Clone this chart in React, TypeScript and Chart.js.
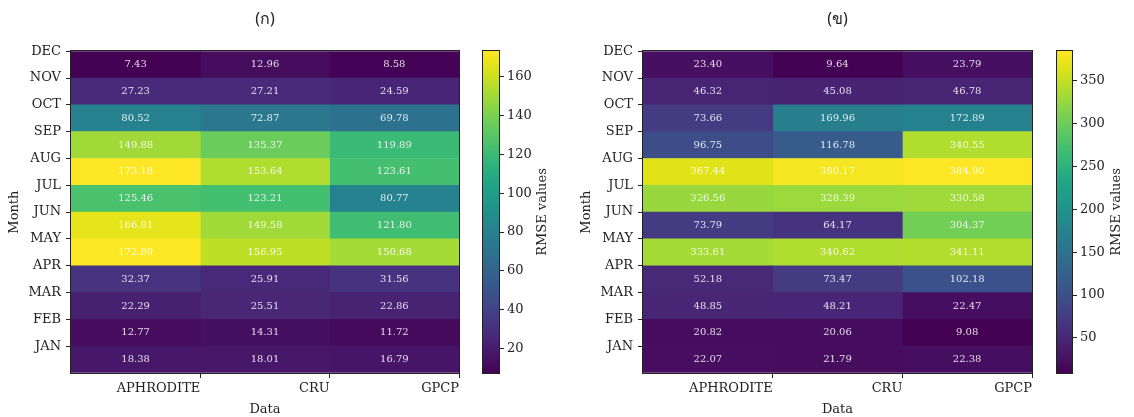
import React, { useEffect, useRef } from 'react';
import { Chart, registerables } from 'chart.js';

Chart.register(...registerables);

// ---------- data ----------
const datasetNames = ['APHRODITE', 'CRU', 'GPCP'];
const monthTicks = ['JAN', 'FEB', 'MAR', 'APR', 'MAY', 'JUN', 'JUL', 'AUG', 'SEP', 'OCT', 'NOV', 'DEC'];
const panelTitles = ['(ก)', '(ข)'];
const yAxisTitle = 'Month';
const xAxisTitle = 'Data';
const colorbarTitle = 'RMSE values';

// rows listed from top to bottom of the heatmap
const aphroditeA = [7.43, 27.23, 80.52, 149.88, 173.18, 125.46, 166.81, 172.89, 32.37, 22.29, 12.77, 18.38];
const cruA = [12.96, 27.21, 72.87, 135.37, 153.64, 123.21, 149.58, 156.95, 25.91, 25.51, 14.31, 18.01];
const gpcpA = [8.58, 24.59, 69.78, 119.89, 123.61, 80.77, 121.8, 150.68, 31.56, 22.86, 11.72, 16.79];

const aphroditeB = [23.4, 46.32, 73.66, 96.75, 367.44, 326.56, 73.79, 333.61, 52.18, 48.85, 20.82, 22.07];
const cruB = [9.64, 45.08, 169.96, 116.78, 380.17, 328.39, 64.17, 340.62, 73.47, 48.21, 20.06, 21.79];
const gpcpB = [23.79, 46.78, 172.89, 340.55, 384.9, 330.58, 304.37, 341.11, 102.18, 22.47, 9.08, 22.38];

const colorbarStepA = 20;
const colorbarStepB = 50;

// ---------- colormap (viridis) ----------
const VIRIDIS = [
  '#440154', '#471365', '#482475', '#463480', '#414487', '#3b528b', '#355f8d',
  '#2f6c8e', '#2a788e', '#25848e', '#21918c', '#1e9c89', '#22a884', '#2fb47c',
  '#44bf70', '#5ec962', '#7ad151', '#9bd93c', '#bddf26', '#dfe318', '#fde725',
];
function hexToRgb(h: string) {
  return [parseInt(h.slice(1, 3), 16), parseInt(h.slice(3, 5), 16), parseInt(h.slice(5, 7), 16)];
}
function viridis(t: number): string {
  const c = Math.min(1, Math.max(0, t)) * (VIRIDIS.length - 1);
  const i = Math.floor(c);
  const f = c - i;
  const a = hexToRgb(VIRIDIS[i]);
  const b = hexToRgb(VIRIDIS[Math.min(i + 1, VIRIDIS.length - 1)]);
  const m = a.map((v, k) => Math.round(v + (b[k] - v) * f));
  return `rgb(${m[0]},${m[1]},${m[2]})`;
}

const SERIF = "'DejaVu Serif', serif";
const TEXT = '#222';
const H = 417;

const framePlugin = {
  id: 'frame',
  afterDatasetsDraw(chart: any) {
    const { ctx, chartArea: ca } = chart;
    ctx.save();
    ctx.strokeStyle = '#222';
    ctx.lineWidth = 1;
    ctx.strokeRect(Math.round(ca.left) - 0.5, Math.round(ca.top) - 0.5, Math.round(ca.right - ca.left) + 1, Math.round(ca.bottom - ca.top) + 1);
    ctx.restore();
  },
};

const cellLabelPlugin = {
  id: 'cellLabels',
  afterDatasetsDraw(chart: any) {
    const { ctx } = chart;
    ctx.save();
    ctx.font = `10px ${SERIF}`;
    ctx.fillStyle = 'rgba(255,255,255,0.85)';
    ctx.textAlign = 'center';
    ctx.textBaseline = 'middle';
    chart.data.datasets.forEach((ds: any, i: number) => {
      const meta = chart.getDatasetMeta(i);
      meta.data.forEach((el: any, j: number) => {
        const p = el.getCenterPoint();
        ctx.fillText(ds.data[j].v.toFixed(2), p.x, p.y);
      });
    });
    ctx.restore();
  },
};

function Heatmap({ cols, title, left, width, axisWidth, padRight }: any) {
  const ref = useRef<HTMLCanvasElement>(null);
  useEffect(() => {
    const all = cols.flat();
    const vmin = Math.min(...all);
    const vmax = Math.max(...all);
    const chart = new Chart(ref.current as HTMLCanvasElement, {
      type: 'bar',
      data: {
        datasets: cols.map((vals: number[], j: number) => ({
          label: datasetNames[j],
          data: vals.map((v, i) => ({ x: j + 0.5, y: [monthTicks.length - 1 - i, monthTicks.length - i], v })),
          backgroundColor: (c: any) => (c.raw ? viridis((c.raw.v - vmin) / (vmax - vmin)) : '#000'),
          borderWidth: 0,
          barPercentage: 1,
          categoryPercentage: 1,
          grouped: false,
        })),
      },
      options: {
        responsive: false,
        animation: false,
        layout: { padding: { left: 0, right: padRight, top: 0, bottom: 0 } },
        plugins: {
          legend: { display: false },
          tooltip: { enabled: false },
          title: {
            display: true,
            text: title,
            fullSize: false,
            color: TEXT,
            font: { family: "'Noto Sans', 'DejaVu Sans', sans-serif", size: 16, weight: 'normal' },
            padding: { top: 10, bottom: 22 },
          },
        },
        scales: {
          x: {
            type: 'linear',
            min: 0,
            max: datasetNames.length,
            offset: false,
            ticks: {
              stepSize: 1,
              autoSkip: false,
              maxRotation: 0,
              align: 'end',
              padding: 3,
              color: TEXT,
              font: { family: SERIF, size: 13 },
              callback: (v: any) => (v >= 1 ? datasetNames[v - 1] : ''),
            },
            grid: {
              offset: false,
              drawOnChartArea: false,
              tickLength: 5,
              tickColor: (c: any) => (c.tick && c.tick.value === 0 ? 'rgba(0,0,0,0)' : '#222'),
            },
            border: { display: false },
            title: { display: true, text: xAxisTitle, color: TEXT, font: { family: SERIF, size: 13 }, padding: { top: 0, bottom: 0 } },
            afterFit: (s: any) => { s.height = 44; },
          },
          y: {
            type: 'linear',
            min: 0,
            max: monthTicks.length,
            ticks: {
              stepSize: 1,
              autoSkip: false,
              maxTicksLimit: 50,
              padding: 5,
              color: TEXT,
              font: { family: SERIF, size: 13 },
              callback: (v: any) => (v >= 1 ? monthTicks[v - 1] : ''),
            },
            grid: {
              drawOnChartArea: false,
              tickLength: 5,
              tickColor: (c: any) => (c.tick && c.tick.value === 0 ? 'rgba(0,0,0,0)' : '#222'),
            },
            border: { display: false },
            title: { display: true, text: yAxisTitle, color: TEXT, font: { family: SERIF, size: 13 }, padding: { top: 7, bottom: 0 } },
            afterFit: (s: any) => { s.width = axisWidth; },
          },
        },
      } as any,
      plugins: [cellLabelPlugin, framePlugin],
    } as any);
    return () => chart.destroy();
  }, []);
  return (
    <canvas ref={ref} width={width} height={H} style={{ position: 'absolute', left, top: 0, width, height: H }} />
  );
}

function Colorbar({ cols, step, left, width, padLeft, axisWidth, labelX }: any) {
  const ref = useRef<HTMLCanvasElement>(null);
  useEffect(() => {
    const all = cols.flat();
    const vmin = Math.min(...all);
    const vmax = Math.max(...all);
    const labelPlugin = {
      id: 'cbLabel',
      afterDraw(chart: any) {
        const { ctx, chartArea: ca } = chart;
        ctx.save();
        ctx.translate(labelX, (ca.top + ca.bottom) / 2);
        ctx.rotate(-Math.PI / 2);
        ctx.font = `13px ${SERIF}`;
        ctx.fillStyle = TEXT;
        ctx.textAlign = 'center';
        ctx.textBaseline = 'middle';
        ctx.fillText(colorbarTitle, 0, 0);
        ctx.restore();
      },
    };
    const chart = new Chart(ref.current as HTMLCanvasElement, {
      type: 'bar',
      data: {
        labels: [''],
        datasets: [
          {
            data: [[vmin, vmax]],
            backgroundColor: (c: any) => {
              const ca = c.chart.chartArea;
              if (!ca) return viridis(0.5);
              const g = c.chart.ctx.createLinearGradient(0, ca.bottom, 0, ca.top);
              VIRIDIS.forEach((col, k) => g.addColorStop(k / (VIRIDIS.length - 1), col));
              return g;
            },
            borderWidth: 0,
            barPercentage: 1,
            categoryPercentage: 1,
          },
        ],
      },
      options: {
        responsive: false,
        animation: false,
        layout: { padding: { left: padLeft, right: 0, top: 51, bottom: 44 } },
        plugins: { legend: { display: false }, tooltip: { enabled: false } },
        scales: {
          x: { display: false },
          y: {
            position: 'right',
            min: vmin,
            max: vmax,
            ticks: {
              stepSize: step,
              includeBounds: false,
              padding: 3,
              color: TEXT,
              font: { family: SERIF, size: 13 },
            },
            grid: { drawOnChartArea: false, tickLength: 5, tickColor: '#222' },
            border: { display: false },
            afterFit: (s: any) => { s.width = axisWidth; },
          },
        },
      } as any,
      plugins: [framePlugin, labelPlugin],
    } as any);
    return () => chart.destroy();
  }, []);
  return (
    <canvas ref={ref} width={width} height={H} style={{ position: 'absolute', left, top: 0, width, height: H }} />
  );
}

export default function App() {
  const colsA = [aphroditeA, cruA, gpcpA];
  const colsB = [aphroditeB, cruB, gpcpB];
  return (
    <div style={{ position: 'absolute', left: 0, top: 0, width: 1134, height: H, background: '#fff' }}>
      <Heatmap cols={colsA} title={panelTitles[0]} left={0} width={470} axisWidth={71} padRight={11} />
      <Colorbar cols={colsA} step={colorbarStepA} left={470} width={90} padLeft={13} axisWidth={61} labelX={73} />
      <Heatmap cols={colsB} title={panelTitles[1]} left={572} width={470} axisWidth={71} padRight={10} />
      <Colorbar cols={colsB} step={colorbarStepB} left={1044} width={90} padLeft={13} axisWidth={62} labelX={73} />
    </div>
  );
}
